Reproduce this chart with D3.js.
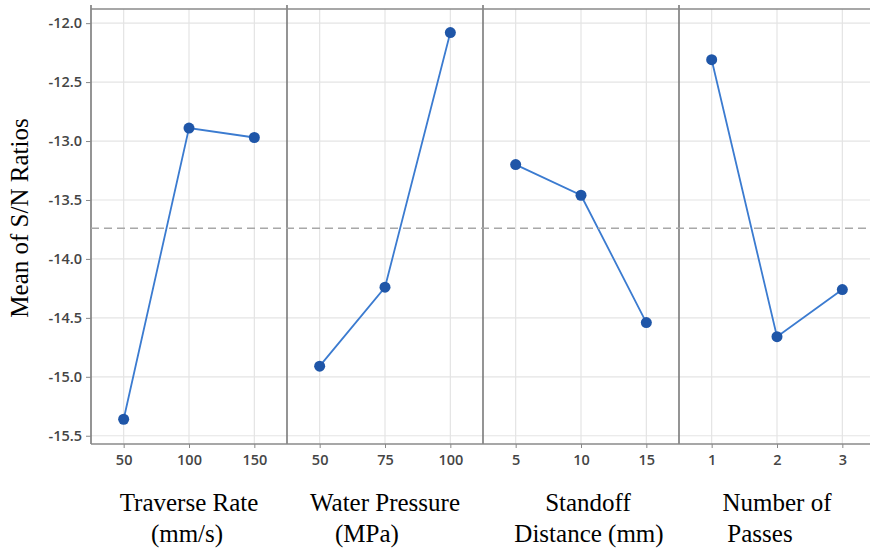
<!DOCTYPE html>
<html>
<head>
<meta charset="utf-8">
<script src="https://cdn.jsdelivr.net/npm/d3@7"></script>
<style>
  body { margin: 0; background: #fff; }
  .tick text { font-family: "Open Sans", sans-serif; font-size: 14.5px; font-weight: 600; fill: #454545; }
  .title { font-family: "Liberation Serif", "Times New Roman", serif; font-size: 25px; fill: #000; }
</style>
</head>
<body>
<script>
// factor levels and mean S/N ratio per level
var factors = ['Traverse Rate (mm/s)', 'Water Pressure (MPa)', 'Standoff Distance (mm)', 'Number of Passes'];
var titleLines = [['Traverse Rate', '(mm/s)'], ['Water Pressure', '(MPa)'], ['Standoff', 'Distance (mm)'], ['Number of', 'Passes']];
var levels = [['50', '100', '150'], ['50', '75', '100'], ['5', '10', '15'], ['1', '2', '3']];
var snMeans = [
    [-15.36, -12.89, -12.97],
    [-14.91, -14.24, -12.08],
    [-13.20, -13.46, -14.54],
    [-12.31, -14.66, -14.26]
];
var overallMean = -13.74;
var yTicks = [-12.0, -12.5, -13.0, -13.5, -14.0, -14.5, -15.0, -15.5];

var svgWidth = 870, svgHeight = 550;
var marginLeft = 91, marginTop = 9, panelW = 196, plotH = 435;
// small horizontal nudges for the two title lines under each panel
var titleShift = [[0, -2], [0, -18], [7, 8], [0, -17]];

var svg = d3.select('body').append('svg')
    .attr('width', svgWidth)
    .attr('height', svgHeight);

var yScale = d3.scaleLinear()
    .domain([-15.57, -11.88])
    .range([marginTop + plotH, marginTop]);

var plotRight = Math.min(marginLeft + panelW * factors.length, svgWidth);

// horizontal grid
svg.append('g')
    .selectAll('line')
    .data(yTicks)
    .enter().append('line')
    .attr('x1', marginLeft).attr('x2', plotRight)
    .attr('y1', function(d) { return yScale(d); })
    .attr('y2', function(d) { return yScale(d); })
    .attr('stroke', '#e4e4e4').attr('stroke-width', 1.2);

factors.forEach(function(f, i) {
    var x0 = marginLeft + i * panelW;
    var xScale = d3.scalePoint()
        .domain(levels[i])
        .range([x0, x0 + panelW])
        .padding(0.5);

    // vertical grid
    svg.append('g')
        .selectAll('line')
        .data(levels[i])
        .enter().append('line')
        .attr('x1', function(d) { return xScale(d); })
        .attr('x2', function(d) { return xScale(d); })
        .attr('y1', marginTop).attr('y2', marginTop + plotH)
        .attr('stroke', '#e4e4e4').attr('stroke-width', 1.2);

    var xAxis = d3.axisBottom(xScale).tickSize(4).tickPadding(7);
    var gx = svg.append('g')
        .attr('class', 'x axis')
        .attr('transform', 'translate(0,' + (marginTop + plotH) + ')')
        .call(xAxis);
    gx.select('.domain').remove();
    gx.selectAll('.tick line').attr('stroke', '#888');

    // axis title under the panel
    var cx = x0 + panelW / 2;
    titleLines[i].forEach(function(t, j) {
        svg.append('text')
            .attr('class', 'title')
            .attr('x', cx + titleShift[i][j])
            .attr('y', 511 + j * 31)
            .attr('text-anchor', 'middle')
            .text(t);
    });

    // separator / panel left border
    svg.append('line')
        .attr('x1', x0).attr('x2', x0)
        .attr('y1', marginTop - 4).attr('y2', marginTop + plotH)
        .attr('stroke', '#7a7a7a').attr('stroke-width', 1.6);

    var pts = levels[i].map(function(l, k) { return { lvl: l, v: snMeans[i][k] }; });

    var line = d3.line()
        .x(function(d) { return xScale(d.lvl); })
        .y(function(d) { return yScale(d.v); });

    svg.append('path')
        .datum(pts)
        .attr('fill', 'none')
        .attr('stroke', '#3b7bd0')
        .attr('stroke-width', 1.8)
        .attr('d', line);

    svg.append('g')
        .selectAll('circle')
        .data(pts)
        .enter().append('circle')
        .attr('cx', function(d) { return xScale(d.lvl); })
        .attr('cy', function(d) { return yScale(d.v); })
        .attr('r', 5.5)
        .attr('fill', '#1f56a8');
});

// overall mean reference line
svg.append('line')
    .attr('x1', marginLeft).attr('x2', plotRight)
    .attr('y1', yScale(overallMean)).attr('y2', yScale(overallMean))
    .attr('stroke', '#a8a8a8')
    .attr('stroke-width', 1.6)
    .attr('stroke-dasharray', '8,5');

// frame top and bottom
svg.append('line')
    .attr('x1', marginLeft).attr('x2', plotRight)
    .attr('y1', marginTop).attr('y2', marginTop)
    .attr('stroke', '#8a8a8a').attr('stroke-width', 1.6);
svg.append('line')
    .attr('x1', marginLeft).attr('x2', plotRight)
    .attr('y1', marginTop + plotH).attr('y2', marginTop + plotH)
    .attr('stroke', '#8a8a8a').attr('stroke-width', 1.6);

var yAxis = d3.axisLeft(yScale)
    .tickValues(yTicks)
    .tickFormat(function(d) { return d3.format('.1f')(d).replace('−', '-'); })
    .tickSize(5)
    .tickPadding(4);

var gy = svg.append('g')
    .attr('class', 'y axis')
    .attr('transform', 'translate(' + marginLeft + ',0)')
    .call(yAxis);
gy.select('.domain').remove();
gy.selectAll('.tick line').attr('stroke', '#888');

svg.append('text')
    .attr('class', 'title')
    .attr('transform', 'translate(28,218) rotate(-90)')
    .attr('text-anchor', 'middle')
    .text('Mean of S/N Ratios');
</script>
</body>
</html>
